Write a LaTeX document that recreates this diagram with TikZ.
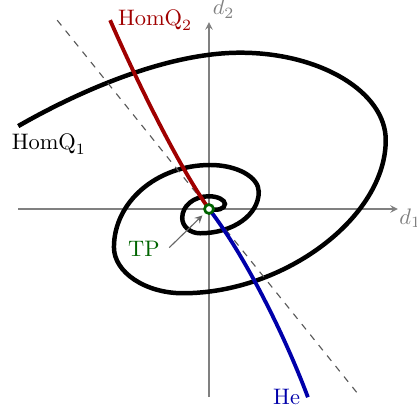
\documentclass[tikz,border=0pt]{standalone}
\usetikzlibrary{positioning}
\definecolor{homqred}{RGB}{160,0,0}
\definecolor{heblue}{RGB}{0,0,170}
\definecolor{tpgreen}{RGB}{0,100,0}

\begin{document}
\begin{tikzpicture}[
    axisline/.style={draw=gray, line width=0.5pt, ->, >=stealth},
    orbit/.style={line width=2pt},
    homqline/.style={line width=1.7pt, draw=homqred},
    heline/.style={line width=1.7pt, draw=heblue},
    sepline/.style={draw=gray!70!black, line width=0.5pt, dashed},
    tpdot/.style={circle, draw=tpgreen, fill=white, line width=1.2pt, minimum size=4pt, inner sep=0pt},
    arrow/.style={draw=gray!80!black, line width=0.5pt, ->, >=stealth}
]
  \useasboundingbox (-3.276,-3.119) rectangle (3.260,3.276);

  % Coordinates
  \coordinate (xleft) at (-2.99,0);
  \coordinate (xright) at (2.96,0);
  \coordinate (ybottom) at (0,-2.95);
  \coordinate (ytop) at (0,2.93);
  \coordinate (sepa) at (-2.38,2.96);
  \coordinate (sepb) at (2.32,-2.88);
  \coordinate (q1start) at (-2.99,1.30);
  \coordinate (q2start) at (-1.55,2.96);
  \coordinate (heend) at (1.55,-2.95);
  \coordinate (origin) at (0,0);

  % Axes
  \draw [axisline] (xleft) -- (xright);
  \draw [axisline] (ybottom) -- (ytop);
  \node (d1lbl) [anchor=west, text=gray, inner sep=0pt, xshift=0.5pt, yshift=-4pt] at (xright) {$d_1$};
  \node (d2lbl) [anchor=south west, text=gray, inner sep=1.5pt] at (ytop) {$d_2$};

  % HomQ1 spiral
  \draw [orbit] (q1start) .. controls (-2.12,1.80) and (-0.71,2.45) .. (0.49,2.45)
    .. controls (1.75,2.45) and (2.77,1.83) .. (2.77,1.08)
    .. controls (2.77,-0.13) and (1.18,-1.32) .. (-0.41,-1.32)
    .. controls (-1.00,-1.32) and (-1.49,-0.99) .. (-1.49,-0.60)
    .. controls (-1.49,0.11) and (-0.82,0.69) .. (0.02,0.69)
    .. controls (0.44,0.69) and (0.78,0.50) .. (0.78,0.27)
    .. controls (0.78,-0.09) and (0.38,-0.38) .. (-0.14,-0.38)
    .. controls (-0.30,-0.38) and (-0.42,-0.27) .. (-0.42,-0.14)
    .. controls (-0.42,0.05) and (-0.24,0.20) .. (0,0.20)
    .. controls (0.14,0.20) and (0.25,0.14) .. (0.25,0.08)
    .. controls (0.25,0) and (0.13,-0.03) .. (origin);

  % dashed line
  \draw [sepline] (sepa) -- (sepb);

  % HomQ2 and He
  \draw [homqline] (q2start) .. controls (-1.25,2.27) and (-0.55,0.78) .. (origin);
  \draw [heline] (origin) .. controls (0.55,-0.71) and (1.18,-1.96) .. (heend);

  % Labels
  \node (q1lbl) at (-2.51,1.01) {$\mathrm{HomQ}_1$};
  \node (q2lbl) [anchor=west, text=homqred] at (q2start) {$\mathrm{HomQ}_2$};
  \node (helbl) [anchor=east, text=heblue] at (heend) {He};

  % TP
  \node (tp) [tpdot] at (origin) {};
  \node (tplbl) [text=tpgreen] at (-1.02,-0.63) {TP};
  \draw [arrow, shorten <=1pt, shorten >=1.5pt] (tplbl.east) -- (tp);
\end{tikzpicture}
\end{document}
